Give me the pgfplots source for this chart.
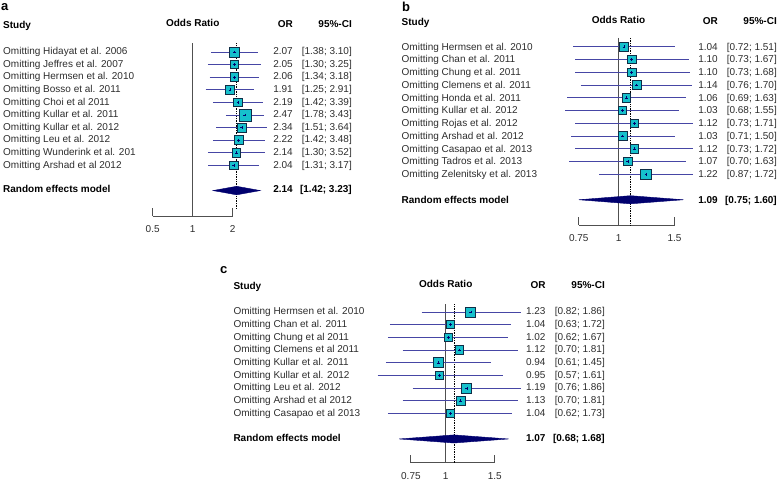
\documentclass[border=0pt]{standalone}
\usepackage{fontspec}
\setmainfont{Liberation Sans}
\usepackage{pgfplots}
\pgfplotsset{compat=1.18}
\usepackage{pgfplotstable}

\definecolor{sqfill}{RGB}{22,192,204}
\definecolor{sqedge}{RGB}{15,45,70}
\definecolor{cicol}{RGB}{70,70,165}
\definecolor{diam}{RGB}{0,0,110}
\definecolor{axgray}{RGB}{80,80,80}
\definecolor{txt}{RGB}{45,45,45}

% y = -row, or, half size of the square (pt)
\pgfplotstableread{
y or s
-1 2.07 5.0
-2 2.05 4.2
-3 2.06 4.4
-4 1.91 4.4
-5 2.19 4.4
-6 2.47 6.0
-7 2.34 4.4
-8 2.22 4.4
-9 2.14 4.2
-10 2.04 4.2
}\dataA

\pgfplotstableread{
y or s
-1 1.04 4.6
-2 1.10 4.2
-3 1.10 4.2
-4 1.14 4.3
-5 1.06 4.2
-6 1.03 4.0
-7 1.12 4.2
-8 1.03 4.3
-9 1.12 4.2
-10 1.07 4.2
-11 1.22 5.3
}\dataB

\pgfplotstableread{
y or s
-1 1.23 5.0
-2 1.04 4.0
-3 1.02 4.0
-4 1.12 4.3
-5 0.94 5.0
-6 0.95 4.0
-7 1.19 5.0
-8 1.13 4.5
-9 1.04 4.0
}\dataC

\pgfplotsset{
  fpax/.style={
    scale only axis, clip=false, anchor=south west, ymax=0,
    axis x line*=bottom, axis y line=none,
    x axis line style={-, draw=axgray, line width=0.9pt},
    tick align=inside, major tick length=8pt,
    xtick style={draw=axgray, line width=0.9pt},
    xticklabel style={font=\fontsize{10}{12}\selectfont, text=txt, yshift=-6pt},
  },
  ci/.style={cicol, line width=0.9pt, unbounded coords=jump, mark=none},
  squares/.style={scatter, only marks, mark=square*, point meta=explicit,
    scatter/use mapped color={draw=sqedge, fill=sqfill, line width=0.7pt},
    visualization depends on={\thisrow{s}\as\sz},
    scatter/@pre marker code/.append style={/tikz/mark size=\sz pt}},
  centres/.style={only marks, mark=+, mark size=1.4pt, diam, line width=0.5pt},
}

\tikzset{
  tx/.style={inner sep=0pt, text height=7.2pt, text depth=2pt, text=txt},
  nm/.style={tx, anchor=west},
  rt/.style={tx, anchor=east},
  hd/.style={tx, text=black, font=\fontsize{10}{12}\selectfont\bfseries},
  lab/.style={inner sep=0pt, anchor=west, font=\fontsize{13}{15}\selectfont\bfseries},
}

\begin{document}
\begin{tikzpicture}[font=\fontsize{10}{12}\selectfont]
\path[use as bounding box] (0,0) rectangle (780pt,-483pt);

% ---------------- panel a
\begin{axis}[xmode=log, fpax, at={(152.7pt,-216pt)}, width=80pt, height=176.6pt,
  xmin=0.5, xmax=2, ymin=-14.02, xtick={0.5,1,2}, xticklabels={0.5,1,2}]
  \addplot[axgray, line width=0.9pt] coordinates {(1,-0.3) (1,-14.02)};
  \addplot[black, densely dotted, line width=0.7pt] coordinates {(2.14,-0.3) (2.14,-13.4)};
  \addplot[ci] coordinates {
    (1.38,-1) (3.10,-1) (nan,nan) (1.30,-2) (3.25,-2) (nan,nan)
    (1.34,-3) (3.18,-3) (nan,nan) (1.25,-4) (2.91,-4) (nan,nan)
    (1.42,-5) (3.39,-5) (nan,nan) (1.78,-6) (3.43,-6) (nan,nan)
    (1.51,-7) (3.64,-7) (nan,nan) (1.42,-8) (3.48,-8) (nan,nan)
    (1.30,-9) (3.52,-9) (nan,nan) (1.31,-10) (3.17,-10)};
  \addplot[squares] table[x=or, y=y, meta=s] {\dataA};
  \addplot[centres] table[x=or, y=y] {\dataA};
  \addplot[fill=diam, draw=diam, line width=0.4pt] coordinates
    {(1.42,-12) (2.14,-11.66) (3.23,-12) (2.14,-12.34)} -- cycle;
\end{axis}
\node[lab] at (1pt,-7pt) {a};
\node[hd, anchor=west] at (3pt,-26pt) {Study};
\node[hd] at (192.7pt,-24pt) {Odds Ratio};
\node[hd, anchor=east] at (293pt,-25pt) {OR};
\node[hd, anchor=east] at (352pt,-25pt) {95\%-CI};
\foreach \n [count=\i] in {Omitting Hidayat et al. 2006, Omitting Jeffres et al. 2007,
  Omitting Hermsen et al. 2010, Omitting Bosso et al. 2011, Omitting Choi et al 2011,
  Omitting Kullar et al. 2011, Omitting Kullar et al. 2012, Omitting Leu et al. 2012,
  Omitting Wunderink et al. 201, Omitting Arshad et al 2012}
  \node[nm] at (3pt, {-(52+(\i-1)*12.6)*1pt}) {\n};
\foreach \o/\l/\h [count=\i] in {2.07/1.38/3.10, 2.05/1.30/3.25, 2.06/1.34/3.18,
  1.91/1.25/2.91, 2.19/1.42/3.39, 2.47/1.78/3.43, 2.34/1.51/3.64, 2.22/1.42/3.48,
  2.14/1.30/3.52, 2.04/1.31/3.17} {
  \node[rt] at (293pt, {-(52+(\i-1)*12.6)*1pt}) {\o};
  \node[rt] at (352pt, {-(52+(\i-1)*12.6)*1pt}) {[\l; \h]};
}
\node[hd, anchor=west] at (3pt,-190pt) {Random effects model};
\node[hd, anchor=east] at (293pt,-190pt) {2.14};
\node[hd, anchor=east] at (352pt,-190pt) {[1.42; 3.23]};

% ---------------- panel b
\begin{axis}[xmode=log, fpax, at={(578.8pt,-225pt)}, width=95.7pt, height=191pt,
  xmin=0.75, xmax=1.5, ymin=-14.98, xtick={0.75,1,1.5}, xticklabels={0.75,1,1.5}]
  \addplot[axgray, line width=0.9pt] coordinates {(1,-0.3) (1,-14.98)};
  \addplot[black, densely dotted, line width=0.7pt] coordinates {(1.09,-0.3) (1.09,-14.98)};
  \addplot[ci] coordinates {
    (0.72,-1) (1.51,-1) (nan,nan) (0.73,-2) (1.67,-2) (nan,nan)
    (0.73,-3) (1.68,-3) (nan,nan) (0.76,-4) (1.70,-4) (nan,nan)
    (0.69,-5) (1.63,-5) (nan,nan) (0.68,-6) (1.55,-6) (nan,nan)
    (0.73,-7) (1.71,-7) (nan,nan) (0.71,-8) (1.50,-8) (nan,nan)
    (0.73,-9) (1.72,-9) (nan,nan) (0.70,-10) (1.63,-10) (nan,nan)
    (0.87,-11) (1.72,-11)};
  \addplot[squares] table[x=or, y=y, meta=s] {\dataB};
  \addplot[centres] table[x=or, y=y] {\dataB};
  \addplot[fill=diam, draw=diam, line width=0.4pt] coordinates
    {(0.75,-13) (1.09,-12.68) (1.60,-13) (1.09,-13.32)} -- cycle;
\end{axis}
\node[lab] at (402pt,-7pt) {b};
\node[hd, anchor=west] at (401.5pt,-23pt) {Study};
\node[hd] at (618.5pt,-21pt) {Odds Ratio};
\node[hd, anchor=east] at (718pt,-22pt) {OR};
\node[hd, anchor=east] at (777pt,-22pt) {95\%-CI};
\foreach \n [count=\i] in {Omitting Hermsen et al. 2010, Omitting Chan et al. 2011,
  Omitting Chung et al. 2011, Omitting Clemens et al. 2011, Omitting Honda et al. 2011,
  Omitting Kullar et al. 2012, Omitting Rojas et al. 2012, Omitting Arshad et al. 2012,
  Omitting Casapao et al. 2013, Omitting Tadros et al. 2013, Omitting Zelenitsky et al. 2013}
  \node[nm] at (401.5pt, {-(47.5+(\i-1)*12.75)*1pt}) {\n};
\foreach \o/\l/\h [count=\i] in {1.04/0.72/1.51, 1.10/0.73/1.67, 1.10/0.73/1.68,
  1.14/0.76/1.70, 1.06/0.69/1.63, 1.03/0.68/1.55, 1.12/0.73/1.71, 1.03/0.71/1.50,
  1.12/0.73/1.72, 1.07/0.70/1.63, 1.22/0.87/1.72} {
  \node[rt] at (718pt, {-(47.5+(\i-1)*12.75)*1pt}) {\o};
  \node[rt] at (777pt, {-(47.5+(\i-1)*12.75)*1pt}) {[\l; \h]};
}
\node[hd, anchor=west] at (401.5pt,-200.5pt) {Random effects model};
\node[hd, anchor=east] at (718pt,-200.5pt) {1.09};
\node[hd, anchor=east] at (777pt,-200.5pt) {[0.75; 1.60]};

% ---------------- panel c
\begin{axis}[xmode=log, fpax, at={(410.9pt,-462.7pt)}, width=83.9pt, height=163.4pt,
  xmin=0.75, xmax=1.5, ymin=-12.87, xtick={0.75,1,1.5}, xticklabels={0.75,1,1.5}]
  \addplot[axgray, line width=0.9pt] coordinates {(1,-0.4) (1,-12.87)};
  \addplot[black, densely dotted, line width=0.7pt] coordinates {(1.07,-0.4) (1.07,-12.87)};
  \addplot[ci] coordinates {
    (0.82,-1) (1.86,-1) (nan,nan) (0.63,-2) (1.72,-2) (nan,nan)
    (0.62,-3) (1.67,-3) (nan,nan) (0.70,-4) (1.81,-4) (nan,nan)
    (0.61,-5) (1.45,-5) (nan,nan) (0.57,-6) (1.61,-6) (nan,nan)
    (0.76,-7) (1.86,-7) (nan,nan) (0.70,-8) (1.81,-8) (nan,nan)
    (0.62,-9) (1.73,-9)};
  \addplot[squares] table[x=or, y=y, meta=s] {\dataC};
  \addplot[centres] table[x=or, y=y] {\dataC};
  \addplot[fill=diam, draw=diam, line width=0.4pt] coordinates
    {(0.68,-11) (1.07,-10.68) (1.68,-11) (1.07,-11.32)} -- cycle;
\end{axis}
\node[lab] at (220pt,-270pt) {c};
\node[hd, anchor=west] at (233.3pt,-286.5pt) {Study};
\node[hd] at (445.7pt,-285pt) {Odds Ratio};
\node[hd, anchor=east] at (545.7pt,-286pt) {OR};
\node[hd, anchor=east] at (605pt,-286pt) {95\%-CI};
\foreach \n [count=\i] in {Omitting Hermsen et al. 2010, Omitting Chan et al. 2011,
  Omitting Chung et al 2011, Omitting Clemens et al 2011, Omitting Kullar et al. 2011,
  Omitting Kullar et al. 2012, Omitting Leu et al. 2012, Omitting Arshad et al 2012,
  Omitting Casapao et al 2013}
  \node[nm] at (233.3pt, {-(312+(\i-1)*12.7)*1pt}) {\n};
\foreach \o/\l/\h [count=\i] in {1.23/0.82/1.86, 1.04/0.63/1.72, 1.02/0.62/1.67,
  1.12/0.70/1.81, 0.94/0.61/1.45, 0.95/0.57/1.61, 1.19/0.76/1.86, 1.13/0.70/1.81,
  1.04/0.62/1.73} {
  \node[rt] at (545.7pt, {-(312+(\i-1)*12.7)*1pt}) {\o};
  \node[rt] at (605pt, {-(312+(\i-1)*12.7)*1pt}) {[\l; \h]};
}
\node[hd, anchor=west] at (233.3pt,-439pt) {Random effects model};
\node[hd, anchor=east] at (545.7pt,-439pt) {1.07};
\node[hd, anchor=east] at (605pt,-439pt) {[0.68; 1.68]};
\end{tikzpicture}
\end{document}
